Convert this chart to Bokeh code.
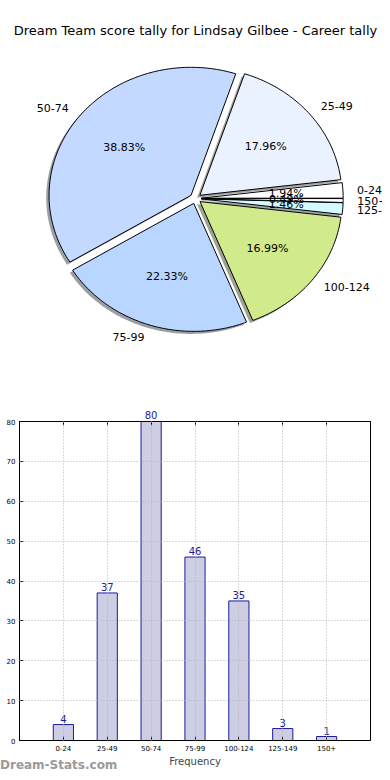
import numpy as np
from bokeh.plotting import figure
from bokeh.models import (ColumnDataSource, Range1d, LabelSet, Label,
                          LinearAxis, FixedTicker, SingleIntervalTicker, Div)
from bokeh.embed import file_html
from bokeh.resources import INLINE
from bokeh.core.properties import value

# ---------------- data ----------------
title = "Dream Team score tally for Lindsay Gilbee - Career tally"
categories = ["0-24", "25-49", "50-74", "75-99", "100-124", "125-149", "150+"]
counts = [4, 37, 80, 46, 35, 3, 1]
pie_colors = ["#ffffff", "#eaf1ff", "#c4d9ff", "#b8d6ff", "#d1ea8c", "#d4faff", "#ffffff"]
y_ticks_interval = 10
y_max = 80
x_label = "Frequency"
watermark = "Dream-Stats.com"

# ---------------- styles / layout ----------------
FONT = "DejaVu Sans"
W = 382
PIE_H = 392
BAR_H = 380
CX, CY, RX, RY = 195, 198, 142, 128   # pie centre / radii in pixels
EXPLODE = 0.04
SHADOW = 0.02
X_PAD = 1
BAR_FILL = "#cdcde3"
BAR_LINE = "#1c1c9c"
GRID = "#b4b4b4"

# ---------------- pie ----------------
n = len(counts)
total = float(sum(counts))
frac = np.array(counts) / total
edges = 2 * np.pi * np.concatenate([[0.0], np.cumsum(frac)])

sl_x, sl_y, sh_x, sh_y = [], [], [], []
lab_x, lab_y, lab_align, pct_x, pct_y, pct_txt = [], [], [], [], [], []
for i in range(n):
    t0, t1 = edges[i], edges[i + 1]
    tm = 0.5 * (t0 + t1)
    ox, oy = EXPLODE * np.cos(tm), EXPLODE * np.sin(tm)
    ts = np.linspace(t0, t1, max(int(np.degrees(t1 - t0)), 2) + 1)
    px = np.concatenate([[ox], ox + np.cos(ts), [ox]])
    py = np.concatenate([[oy], oy + np.sin(ts), [oy]])
    sl_x.append(px)
    sl_y.append(py)
    sh_x.append(px - SHADOW)
    sh_y.append(py - SHADOW)
    lx = ox + 1.1 * np.cos(tm)
    ly = oy + 1.1 * np.sin(tm)
    lab_x.append(lx)
    lab_y.append(ly)
    lab_align.append("left" if lx > 0 else "right")
    pct_x.append(ox + 0.6 * np.cos(tm))
    pct_y.append(oy + 0.6 * np.sin(tm))
    pct_txt.append("%.2f%%" % (100 * frac[i]))

def shade(c):
    r, g, b = int(c[1:3], 16), int(c[3:5], 16), int(c[5:7], 16)
    return "#%02x%02x%02x" % (int(r * 0.3), int(g * 0.3), int(b * 0.3))

p1 = figure(width=W, height=PIE_H, output_backend="svg", toolbar_location=None,
            x_range=Range1d((0 - CX) / RX, (W - CX) / RX),
            y_range=Range1d((CY - PIE_H) / RY, CY / RY),
            min_border=0)
p1.axis.visible = False
p1.grid.visible = False
p1.outline_line_color = None

p1.patches(xs="x", ys="y", source=ColumnDataSource(dict(
    x=sh_x, y=sh_y, c=[shade(c) for c in pie_colors])),
    fill_color="c", fill_alpha=0.5, line_color=None)
p1.patches(xs="x", ys="y", source=ColumnDataSource(dict(
    x=sl_x, y=sl_y, c=pie_colors)),
    fill_color="c", line_color="black", line_width=1)

p1.text(x="x", y="y", text="t", text_align="a", source=ColumnDataSource(dict(
    x=lab_x, y=lab_y, t=categories, a=lab_align)),
    text_baseline="middle", text_font=value(FONT), text_font_size="11px", text_color="black")
p1.text(x="x", y="y", text="t", source=ColumnDataSource(dict(
    x=pct_x, y=pct_y, t=pct_txt)),
    text_align="center", text_baseline="middle", text_font=value(FONT),
    text_font_size="11px", text_color="black")
p1.add_layout(Label(x=0, y=(CY - 30) / RY, text=title, text_align="center",
                    text_baseline="middle", text_font=FONT, text_font_size="13px",
                    text_color="black"))

# ---------------- bars ----------------
pos = list(range(n))
src = ColumnDataSource(dict(pos=pos, count=counts))
inside = [(p, v) for p, v in zip(pos, counts) if v < y_max]
src_in = ColumnDataSource(dict(pos=[p for p, v in inside], count=[v for p, v in inside],
                               lab=[str(v) for p, v in inside]))

p2 = figure(width=W, height=BAR_H, output_backend="svg", toolbar_location=None,
            x_range=Range1d(-X_PAD, n - 1 + X_PAD),
            y_range=Range1d(0, y_max),
            min_border_left=19, min_border_right=12, min_border_top=29, min_border_bottom=32)
p2.outline_line_color = "black"
p2.outline_line_width = 1

p2.vbar(x="pos", top="count", width=0.46, source=src, fill_color=BAR_FILL,
        line_color=BAR_LINE, line_width=1)

p2.xaxis.ticker = FixedTicker(ticks=pos, minor_ticks=[])
p2.xaxis.major_label_overrides = {p: c for p, c in zip(pos, categories)}
p2.yaxis.ticker = SingleIntervalTicker(interval=y_ticks_interval, num_minor_ticks=0)
for ax in (p2.xaxis[0], p2.yaxis[0]):
    ax.major_label_text_font = FONT
    ax.major_label_text_font_size = "7px"
    ax.major_label_text_color = "black"
    ax.major_tick_in = 4
    ax.major_tick_out = 0
    ax.minor_tick_line_color = None
    ax.axis_line_color = "black"
    ax.major_tick_line_color = "black"
p2.yaxis.major_label_standoff = 4
p2.xaxis.major_label_standoff = 4
p2.xaxis.axis_label = x_label
p2.xaxis.axis_label_text_font = FONT
p2.xaxis.axis_label_text_font_size = "10px"
p2.xaxis.axis_label_text_font_style = "normal"
p2.xaxis.axis_label_standoff = 2

# top axis: inward ticks, and the value label of any bar that reaches the frame top
# (labels inside the frame are clipped there)
top_labels = {p: (str(v) if v >= y_max else "") for p, v in zip(pos, counts)}
ta = LinearAxis(ticker=FixedTicker(ticks=pos, minor_ticks=[]),
                major_label_overrides=top_labels, major_label_text_font=FONT,
                major_label_text_font_size="10px", major_label_text_color=BAR_LINE,
                major_tick_in=4, major_tick_out=0, major_label_standoff=3,
                minor_tick_line_color=None)
p2.add_layout(ta, "above")

for g in (p2.xgrid[0], p2.ygrid[0]):
    g.grid_line_color = GRID
    g.grid_line_dash = "1 2"
    g.grid_line_width = 1
    g.level = "overlay"

p2.add_layout(LabelSet(x="pos", y="count", text="lab", source=src_in, y_offset=2,
                       text_align="center", text_baseline="bottom", text_font=value(FONT),
                       text_font_size="10px", text_color=BAR_LINE))

wm = Div(text=watermark, width=120, height=14,
         styles={"margin-top": "-14px", "font-family": FONT, "font-size": "12px",
                 "font-weight": "bold", "color": "#9a9a9a", "line-height": "14px",
                 "margin-left": "0px"})

open("out.html", "w").write(file_html([p1, p2, wm], INLINE))
